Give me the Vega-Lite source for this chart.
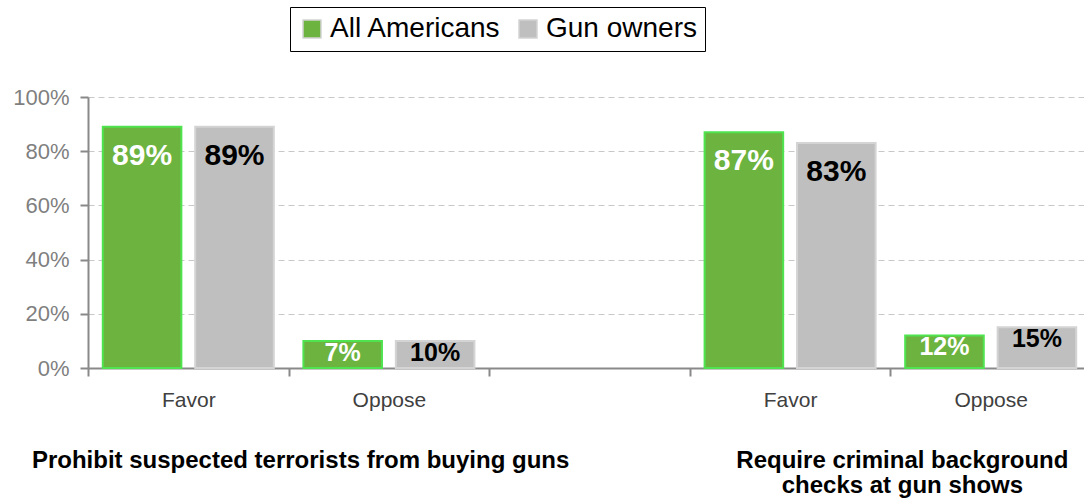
{
  "$schema": "https://vega.github.io/schema/vega-lite/v6.json",
  "width": 996,
  "height": 271,
  "autosize": {"type": "none"},
  "padding": {"left": 88, "top": 97, "right": 0, "bottom": 131},
  "config": {"view": {"stroke": null}, "font": "Liberation Sans"},
  "datasets": {
    "bardata": [
      {"cat": "Favor", "series": "All Americans", "value": 0.89, "label": "89%"},
      {"cat": "Favor", "series": "Gun owners", "value": 0.89, "label": "89%"},
      {"cat": "Oppose", "series": "All Americans", "value": 0.10, "label": "7%"},
      {"cat": "Oppose", "series": "Gun owners", "value": 0.10, "label": "10%"},
      {"cat": "Favor ", "series": "All Americans", "value": 0.87, "label": "87%"},
      {"cat": "Favor ", "series": "Gun owners", "value": 0.83, "label": "83%"},
      {"cat": "Oppose ", "series": "All Americans", "value": 0.12, "label": "12%"},
      {"cat": "Oppose ", "series": "Gun owners", "value": 0.15, "label": "15%"}
    ],
    "groupdata": [
      {"cat": "Oppose", "title": ["Prohibit suspected terrorists from buying guns"]},
      {"cat": "Oppose ", "title": ["Require criminal background", "checks at gun shows"]}
    ]
  },
  "layer": [
    {
      "data": {"name": "bardata"},
      "mark": {"type": "bar", "strokeWidth": 2},
      "encoding": {
        "x": {
          "field": "cat", "type": "nominal", "title": null,
          "scale": {"domain": ["Favor", "Oppose", " ", "Favor ", "Oppose "], "range": [0, 1003], "paddingInner": 0, "paddingOuter": 0},
          "axis": {
            "labelAngle": 0, "labelFontSize": 21, "labelColor": "#404040", "labelPadding": 13,
            "domainColor": "#898989", "domainWidth": 2,
            "tickBand": "extent", "tickColor": "#898989", "tickWidth": 2, "tickSize": 8,
            "grid": false
          }
        },
        "xOffset": {"field": "series", "type": "nominal", "scale": {"paddingInner": 0.15, "paddingOuter": 0.16}},
        "y": {
          "field": "value", "type": "quantitative", "title": null,
          "scale": {"domain": [0, 1]},
          "axis": {
            "values": [0, 0.2, 0.4, 0.6, 0.8, 1], "format": ".0%",
            "labelFontSize": 22, "labelColor": "#7f7f7f", "labelPadding": 11,
            "domainColor": "#898989", "domainWidth": 2,
            "tickColor": "#898989", "tickWidth": 2, "tickSize": 8,
            "grid": true, "gridColor": "#c8c8c8", "gridDash": [6, 4], "gridWidth": 1
          }
        },
        "color": {
          "field": "series", "type": "nominal",
          "scale": {"domain": ["All Americans", "Gun owners"], "range": ["#6cb33f", "#bfbfbf"]},
          "legend": {
            "title": null, "orient": "none", "legendX": 202, "legendY": -90, "direction": "horizontal",
            "strokeColor": "black", "padding": 8, "symbolType": "square", "symbolSize": 324,
            "labelFontSize": 28, "labelColor": "black", "labelLimit": 400, "columnPadding": 12, "labelOffset": 4,
            "encode": {
              "symbols": {"update": {"stroke": {"signal": "datum.value === 'All Americans' ? '#4fe34f' : '#d4d4d4'"}, "strokeWidth": {"value": 2}}},
              "legend": {"update": {"strokeWidth": {"value": 2}}}
            }
          }
        },
        "stroke": {"condition": {"test": "datum.series === 'All Americans'", "value": "#4fe34f"}, "value": "#d4d4d4"}
      }
    },
    {
      "data": {"name": "bardata"},
      "transform": [{"filter": "datum.value > 0.5"}],
      "mark": {"type": "text", "fontSize": 30, "fontWeight": "bold", "baseline": "middle", "dy": 29},
      "encoding": {
        "x": {"field": "cat", "type": "nominal"},
        "xOffset": {"field": "series", "type": "nominal"},
        "y": {"field": "value", "type": "quantitative"},
        "text": {"field": "label"},
        "color": {"condition": {"test": "datum.series === 'All Americans'", "value": "white"}, "value": "black"}
      }
    },
    {
      "data": {"name": "bardata"},
      "transform": [{"filter": "datum.value <= 0.5"}],
      "mark": {"type": "text", "fontSize": 25, "fontWeight": "bold", "baseline": "middle", "dy": 12},
      "encoding": {
        "x": {"field": "cat", "type": "nominal"},
        "xOffset": {"field": "series", "type": "nominal"},
        "y": {"field": "value", "type": "quantitative"},
        "text": {"field": "label"},
        "color": {"condition": {"test": "datum.series === 'All Americans'", "value": "white"}, "value": "black"}
      }
    },
    {
      "data": {"name": "groupdata"},
      "mark": {"type": "text", "fontSize": 24, "fontWeight": "bold", "baseline": "alphabetic", "align": "center", "dy": 100, "dx": 12, "lineHeight": 25, "color": "black"},
      "encoding": {
        "x": {"field": "cat", "type": "nominal", "bandPosition": 0},
        "y": {"datum": 0, "type": "quantitative"},
        "text": {"field": "title"}
      }
    }
  ]
}
